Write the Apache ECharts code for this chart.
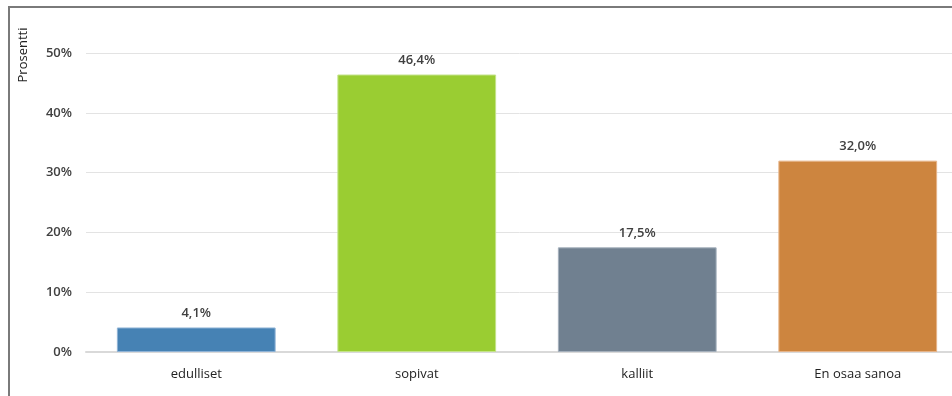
<!DOCTYPE html>
<html><head><meta charset="utf-8">
<script src="https://cdn.jsdelivr.net/npm/echarts@6/dist/echarts.min.js"></script>
<style>html,body{margin:0;padding:0;background:#fff}#c{width:952px;height:396px}</style>
</head><body><div id="c"></div>
<script>
const categories = ["edulliset", "sopivat", "kalliit", "En osaa sanoa"];
const values = [4.1, 46.4, 17.5, 32.0];
const colors = ["#4682B4", "#9ACD32", "#708090", "#CD853F"];
const borderColors = ["#8FB3D6", "#C4E38A", "#A5B0BC", "#E6B489"];
const yTicks = [0, 10, 20, 30, 40, 50];
const yTitle = "Prosentti";

const chart = echarts.init(document.getElementById('c'));
const font = '"Open Sans", "Noto Sans", sans-serif';
chart.setOption({
  animation: false,
  textStyle: {fontFamily: font},
  graphic: [
    {type: 'line', shape: {x1: 8, y1: 7, x2: 952, y2: 7}, style: {stroke: '#7a7a7a', lineWidth: 2}},
    {type: 'line', shape: {x1: 9, y1: 6, x2: 9, y2: 396}, style: {stroke: '#7a7a7a', lineWidth: 2}},
    {type: 'text', x: 23, y: 55, rotation: Math.PI / 2,
      style: {text: yTitle, fill: '#222', font: '13px ' + font, textAlign: 'center', textVerticalAlign: 'middle'}}
  ],
  grid: {left: 86, top: 53, width: 882, height: 299, containLabel: false, outerBoundsMode: 'none'},
  xAxis: {
    type: 'category', data: categories,
    axisLine: {lineStyle: {color: '#d9d9d9', width: 2}},
    axisTick: {show: false},
    axisLabel: {color: '#222', fontSize: 13, margin: 16, fontFamily: font}
  },
  yAxis: {
    type: 'value', min: yTicks[0], max: yTicks[yTicks.length - 1], interval: 10,
    axisLine: {show: false}, axisTick: {show: false},
    axisLabel: {color: '#404040', fontSize: 13, fontWeight: 600, margin: 14, formatter: v => v + '%', fontFamily: font},
    splitLine: {lineStyle: {color: '#e3e3e3', width: 1}}
  },
  series: [{
    type: 'bar', barWidth: '72%',
    data: values.map((v, i) => ({value: v, itemStyle: {color: colors[i], borderColor: borderColors[i], borderWidth: 1}})),
    label: {show: true, position: 'top', distance: 8, color: '#404040', fontSize: 13, fontWeight: 600, fontFamily: font,
      formatter: p => p.value.toFixed(1).replace('.', ',') + '%'}
  }]
});
</script></body></html>
